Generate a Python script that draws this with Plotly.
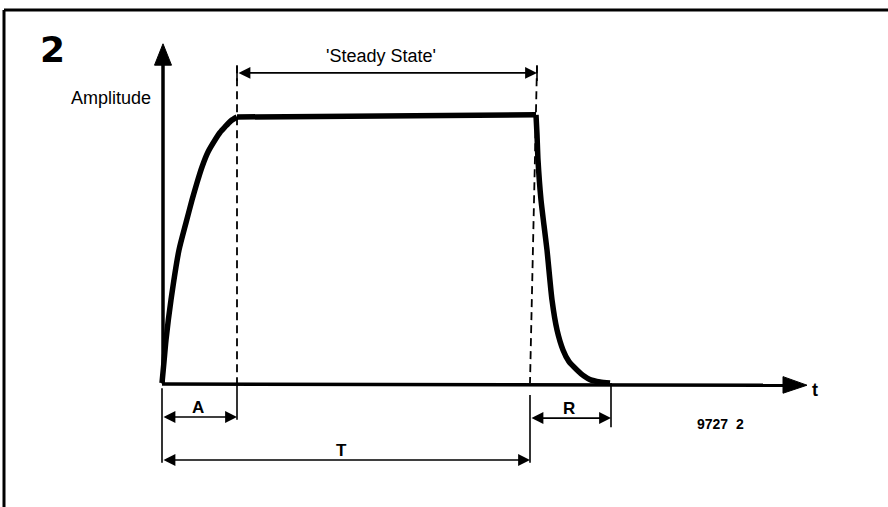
import plotly.graph_objects as go

# Envelope of a tone: attack, steady state, release (time in arbitrary units, amplitude normalised)
attack_t = [0.0, 0.2, 0.4, 0.9, 1.7, 2.4, 3.0, 3.5, 4.0, 4.6, 5.3, 5.8, 6.3, 6.9, 7.5]
attack_amp = [0.0, 0.080, 0.161, 0.311, 0.498, 0.600, 0.685, 0.750, 0.809, 0.865, 0.910, 0.938, 0.959, 0.982, 0.996]
steady_t = [7.5, 37.4]
steady_amp = [0.996, 1.004]
release_t = [37.4, 37.5, 37.6, 37.9, 38.2, 38.5, 39.0, 39.5, 40.1, 40.7, 41.5, 42.2, 42.8, 43.8, 44.8]
release_amp = [1.004, 0.93, 0.835, 0.685, 0.590, 0.498, 0.311, 0.199, 0.124, 0.080, 0.049, 0.026, 0.013, 0.004, 0.0]

# Phase boundaries on the time axis
attack_end = 7.5
steady_end_top = 37.5
steady_end = 36.8
release_end = 44.9

# Labels
fig_number = "2"
y_label = "Amplitude"
x_label = "t"
steady_label = "'Steady State'"
attack_label = "A"
release_label = "R"
total_label = "T"
ref_code = "9727&nbsp;&nbsp;2"

# Axis geometry (data units)
T_MIN, T_MAX = -16.2, 72.6
A_MIN, A_MAX = -0.464, 1.434
axis_t_tip = 64.5
axis_amp_tip = 1.27
guide_top = 1.19
steady_arrow_y = 1.161
attack_arrow_y = -0.127
release_arrow_y = -0.131
total_arrow_y = -0.288

INK = "#000000"
FONT = "Liberation Sans, Arial, sans-serif"

fig = go.Figure()


def line(xs, ys, width=2.0, dash=None):
    fig.add_trace(go.Scatter(
        x=xs, y=ys, mode="lines", hoverinfo="skip", showlegend=False,
        line=dict(color=INK, width=width, dash=dash),
    ))


def triangle(xs, ys):
    fig.add_trace(go.Scatter(
        x=xs + [xs[0]], y=ys + [ys[0]], mode="lines", fill="toself",
        fillcolor=INK, line=dict(color=INK, width=1),
        hoverinfo="skip", showlegend=False,
    ))


# Axes with filled arrowheads
line([0.1, 0.1], [-0.002, axis_amp_tip - 0.06], width=3.5)
triangle([-0.75, 0.1, 0.95], [axis_amp_tip - 0.08, axis_amp_tip, axis_amp_tip - 0.08])
line([0.0, axis_t_tip - 1.5], [-0.004, -0.008], width=3.5)
triangle([axis_t_tip - 2.4, axis_t_tip, axis_t_tip - 2.4], [0.024, -0.008, -0.038])

# Dashed phase boundaries
line([attack_end, attack_end], [guide_top, 0.0], width=1.8, dash="8px,5px")
line([steady_end_top, steady_end], [guide_top, 0.0], width=1.8, dash="8px,5px")

# Envelope curve: smooth attack, straight plateau, smooth release
for ts, amps, shape in ((attack_t, attack_amp, "spline"),
                        (steady_t, steady_amp, "linear"),
                        (release_t, release_amp, "spline")):
    fig.add_trace(go.Scatter(
        x=ts, y=amps, mode="lines",
        line=dict(color=INK, width=5.5, shape=shape, smoothing=0.6),
        hoverinfo="skip", showlegend=False,
    ))

# Extension lines for the dimension arrows
line([0.0, 0.0], [-0.019, -0.298], width=1.6)
line([attack_end, attack_end], [0.0, attack_arrow_y - 0.01], width=1.6)
line([steady_end, steady_end], [-0.045, total_arrow_y - 0.01], width=1.6)
line([release_end, release_end], [0.0, -0.165], width=1.6)
line([attack_end, attack_end], [steady_arrow_y + 0.025, steady_arrow_y - 0.03], width=1.6)
line([steady_end_top, steady_end_top], [steady_arrow_y + 0.025, steady_arrow_y - 0.03], width=1.6)


def dim_arrow(t0, t1, y):
    fig.add_annotation(
        x=t1, y=y, ax=t0, ay=y, xref="x", yref="y", axref="x", ayref="y",
        text="", showarrow=True, arrowhead=2, arrowsize=1.4, arrowwidth=1.7,
        arrowside="end+start", arrowcolor=INK, standoff=0, startstandoff=0,
    )


dim_arrow(attack_end, steady_end_top, steady_arrow_y)
dim_arrow(0.0, attack_end, attack_arrow_y)
dim_arrow(steady_end, release_end, release_arrow_y)
dim_arrow(0.0, steady_end, total_arrow_y)


def label(text, t, a, size, bold=False, xanchor="center", family=FONT):
    fig.add_annotation(
        x=t, y=a, xref="x", yref="y", text=f"<b>{text}</b>" if bold else text,
        showarrow=False, xanchor=xanchor, yanchor="middle",
        font=dict(family=family, size=size, color=INK),
    )


label(fig_number, -11.0, 1.247, 36, bold=True, family="DejaVu Sans, sans-serif")
label(y_label, -0.9, 1.067, 18, xanchor="right")
label(steady_label, 37.9 - 16.0, 1.223, 18)
label(attack_label, 3.6, -0.092, 17, bold=True)
label(release_label, 40.7, -0.097, 17, bold=True)
label(total_label, 17.9, -0.251, 17, bold=True)
label(ref_code, 55.8, -0.154, 14, bold=True)
label(x_label, 64.8, -0.026, 18, bold=True, xanchor="left")

# Frame: heavy rule along the top and left edges
fig.add_shape(type="line", xref="paper", yref="paper", x0=4 / 888, x1=1.0,
              y0=1 - 10 / 507, y1=1 - 10 / 507, line=dict(color=INK, width=3))
fig.add_shape(type="line", xref="paper", yref="paper", x0=4 / 888, x1=4 / 888,
              y0=0.0, y1=1 - 10 / 507, line=dict(color=INK, width=3))

fig.update_layout(
    width=888, height=507, margin=dict(l=0, r=0, t=0, b=0),
    paper_bgcolor="white", plot_bgcolor="white",
    xaxis=dict(range=[T_MIN, T_MAX], visible=False, fixedrange=True),
    yaxis=dict(range=[A_MIN, A_MAX], visible=False, fixedrange=True),
    showlegend=False,
)

fig.write_html("out.html")
